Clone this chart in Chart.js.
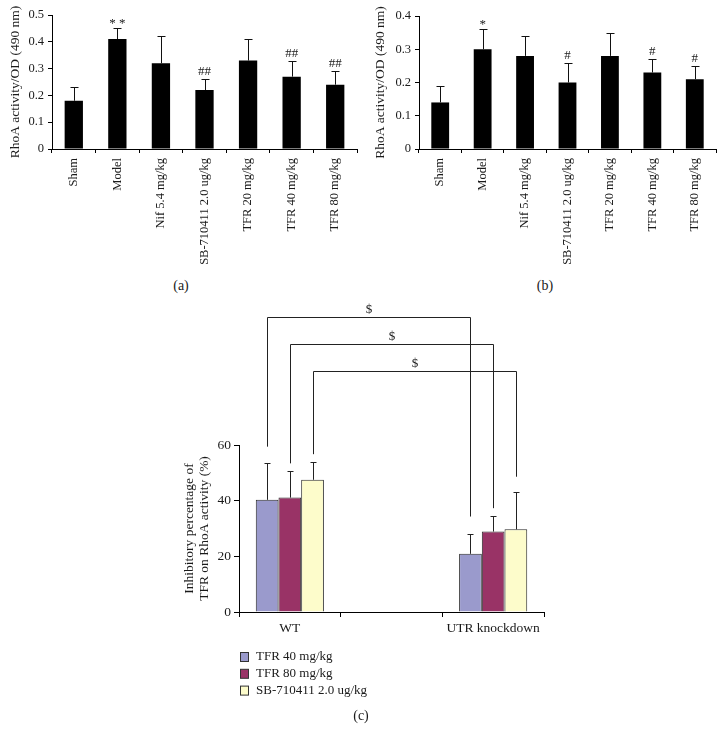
<!DOCTYPE html>
<html>
<head>
<meta charset="utf-8">
<script src="https://cdn.jsdelivr.net/npm/chart.js@4"></script>
<style>
  html, body { margin: 0; padding: 0; background: #fff; }
  body { width: 725px; height: 742px; position: relative; overflow: hidden; }
  canvas { position: absolute; }
  .cap { position: absolute; width: 40px; margin-left: -20px; text-align: center;
         font: 14px "Liberation Serif", serif; color: #1a1a1a; line-height: 16px; }
</style>
</head>
<body>
<canvas id="ca" width="362" height="275" style="left:0;top:0"></canvas>
<canvas id="cb" width="363" height="275" style="left:362px;top:0"></canvas>
<canvas id="cc" width="400" height="447" style="left:165px;top:295px"></canvas>
<div class="cap" style="left:181px;top:278px">(a)</div>
<div class="cap" style="left:545px;top:278px">(b)</div>
<div class="cap" style="left:361px;top:708px">(c)</div>

<script>
// ── DATA ──────────────────────────────────────
const groupLabels = ['Sham', 'Model', 'Nif 5.4 mg/kg', 'SB-710411 2.0 ug/kg',
                     'TFR 20 mg/kg', 'TFR 40 mg/kg', 'TFR 80 mg/kg'];

// panel (a)
const meanA = [0.18, 0.41, 0.32, 0.22, 0.33, 0.27, 0.24];
const sdA   = [0.05, 0.04, 0.10, 0.04, 0.08, 0.06, 0.05];
const markA = ['', '* *', '', '##', '', '##', '##'];

// panel (b)
const meanB = [0.14, 0.30, 0.28, 0.20, 0.28, 0.23, 0.21];
const sdB   = [0.05, 0.06, 0.06, 0.06, 0.07, 0.04, 0.04];
const markB = ['', '*', '', '#', '', '#', '#'];

// panel (c)
const groupsC   = ['WT', '', 'UTR knockdown'];
const seriesC   = ['TFR 40 mg/kg', 'TFR 80 mg/kg', 'SB-710411 2.0 ug/kg'];
const tfr40     = [40.3, null, 20.9];
const tfr40Sd   = [13.2, null, 7.1];
const tfr80     = [41.1, null, 28.9];
const tfr80Sd   = [9.4, null, 5.6];
const sb710411  = [47.5, null, 29.7];
const sb710411Sd = [6.4, null, 13.5];

// "$" brackets: series index, left end, top level, right end (data units)
const bracketSeries = [0, 1, 2];
const bracketLeft   = [59.4, 53.4, 56.7];
const bracketTop    = [106, 96.3, 86.6];
const bracketRight  = [34.3, 37.3, 48.6];

// ── SHARED STYLE ──────────────────────────────
const SERIF = '"Liberation Serif", "Times New Roman", serif';
const INK = '#1a1a1a';
const C_COLORS = ['#9a9acc', '#993366', '#fdfccb'];

// error bars (upward only) + significance marks
const errorBars = {
  id: 'errorBars',
  afterDatasetsDraw(chart, args, opts) {
    const { ctx, scales: { y } } = chart;
    ctx.save();
    ctx.strokeStyle = opts.color || '#000';
    ctx.lineWidth = 1;
    ctx.fillStyle = INK;
    ctx.font = '13px ' + SERIF;
    ctx.textAlign = 'center';
    ctx.textBaseline = 'alphabetic';
    chart.data.datasets.forEach((ds, di) => {
      if (!ds.sd) return;
      chart.getDatasetMeta(di).data.forEach((bar, i) => {
        const v = ds.data[i], s = ds.sd[i];
        if (v == null || s == null) return;
        const x  = Math.round(bar.x) + 0.5;
        const y0 = y.getPixelForValue(v);
        const y1 = Math.round(y.getPixelForValue(v + s)) + 0.5;
        ctx.beginPath();
        ctx.moveTo(x, y0); ctx.lineTo(x, y1);
        ctx.moveTo(x - opts.cap, y1); ctx.lineTo(x + opts.cap, y1);
        ctx.stroke();
        const m = ds.marks && ds.marks[i];
        if (m) {
          const d = ctx.measureText(m).actualBoundingBoxDescent;
          ctx.fillText(m, bar.x, y1 - 5 - d);
        }
      });
    });
    ctx.restore();
  }
};

// ── PANELS (a) and (b) ────────────────────────
function blackBars(id, data, sd, marks, yMax, yLeft, pad, h) {
  new Chart(document.getElementById(id), {
    type: 'bar',
    data: {
      labels: groupLabels,
      datasets: [{ data, sd, marks, backgroundColor: '#000',
                   barPercentage: 0.42, categoryPercentage: 1 }]
    },
    options: {
      responsive: false, animation: false,
      layout: { padding: pad },
      plugins: { legend: { display: false }, tooltip: { enabled: false },
                 errorBars: { cap: 4, color: '#111' } },
      scales: {
        x: {
          grid: { display: true, drawOnChartArea: false, offset: true, tickLength: 4, color: '#000' },
          border: { color: '#000' },
          ticks: { autoSkip: false, minRotation: 90, maxRotation: 90, padding: 5,
                   color: INK, font: { family: SERIF, size: 12.5 } },
          afterFit: s => { s.height = h; }
        },
        y: {
          min: 0, max: yMax,
          grid: { drawOnChartArea: false, tickLength: 4, color: '#000' },
          border: { color: '#000' },
          ticks: { stepSize: 0.1, padding: 4, color: INK, font: { family: SERIF, size: 12.5 } },
          title: { display: true, text: 'RhoA activity/OD (490 nm)', color: INK,
                   font: { family: SERIF, size: 13.5 }, padding: { top: pad.titleTop, bottom: 0 } },
          afterFit: s => { s.width = yLeft; }
        }
      }
    },
    plugins: [errorBars]
  });
}

blackBars('ca', meanA, sdA, markA, 0.5, 52, { top: 15, right: 5, left: 0, bottom: 0, titleTop: 7 }, 126);
blackBars('cb', meanB, sdB, markB, 0.4, 57, { top: 16, right: 9, left: 0, bottom: 0, titleTop: 10 }, 126);

// ── PANEL (c) ─────────────────────────────────
const brackets = {
  id: 'brackets',
  afterDraw(chart) {
    const { ctx, scales: { y } } = chart;
    ctx.save();
    ctx.strokeStyle = '#222';
    ctx.lineWidth = 1;
    ctx.fillStyle = INK;
    ctx.font = '13px ' + SERIF;
    ctx.textAlign = 'center';
    ctx.textBaseline = 'alphabetic';
    bracketSeries.forEach((di, k) => {
      const bars = chart.getDatasetMeta(di).data;
      const xl = Math.round(bars[0].x) + 0.5, xr = Math.round(bars[2].x) + 0.5;
      const yt = Math.round(y.getPixelForValue(bracketTop[k])) + 0.5;
      ctx.beginPath();
      ctx.moveTo(xl, y.getPixelForValue(bracketLeft[k]));
      ctx.lineTo(xl, yt);
      ctx.lineTo(xr, yt);
      ctx.lineTo(xr, y.getPixelForValue(bracketRight[k]));
      ctx.stroke();
      ctx.fillText('$', (xl + xr) / 2, yt - 5);
    });

    // legend, one entry per row
    ctx.textAlign = 'left';
    ctx.textBaseline = 'middle';
    chart.data.datasets.forEach((ds, i) => {
      const cy = 362 + i * 16.8;
      ctx.fillStyle = ds.backgroundColor;
      ctx.fillRect(75.5, cy - 4.5, 8, 9);
      ctx.strokeStyle = '#333';
      ctx.strokeRect(75.5, cy - 4.5, 8, 9);
      ctx.fillStyle = INK;
      ctx.fillText(ds.label, 91, cy);
    });
    ctx.restore();
  }
};

new Chart(document.getElementById('cc'), {
  type: 'bar',
  data: {
    labels: groupsC,
    datasets: [
      { label: seriesC[0], data: tfr40,    sd: tfr40Sd },
      { label: seriesC[1], data: tfr80,    sd: tfr80Sd },
      { label: seriesC[2], data: sb710411, sd: sb710411Sd }
    ].map((d, i) => Object.assign(d, {
      backgroundColor: C_COLORS[i], borderColor: '#2a2a2a', borderWidth: 1,
      barPercentage: 1, categoryPercentage: 0.67
    }))
  },
  options: {
    responsive: false, animation: false,
    layout: { padding: { top: 150, right: 21, left: 0, bottom: 0 } },
    plugins: { legend: { display: false }, tooltip: { enabled: false },
               errorBars: { cap: 3, color: '#222' } },
    scales: {
      x: {
        grid: { display: true, drawOnChartArea: false, offset: true, tickLength: 5, color: '#000' },
        border: { color: '#000' },
        ticks: { autoSkip: false, maxRotation: 0, padding: 3, color: INK,
                 font: { family: SERIF, size: 13.5 } },
        afterFit: s => { s.height = 130; }
      },
      y: {
        min: 0, max: 60,
        grid: { drawOnChartArea: false, tickLength: 5, color: '#000' },
        border: { color: '#000' },
        ticks: { stepSize: 20, padding: 3, color: INK, font: { family: SERIF, size: 13.5 } },
        title: { display: true, text: ['Inhibitory percentage of', 'TFR on RhoA activity (%)'],
                 color: INK, font: { family: SERIF, size: 13.5, lineHeight: 1.1 },
                 padding: { top: 17, bottom: 0 } },
        afterFit: s => { s.width = 74; }
      }
    }
  },
  plugins: [errorBars, brackets]
});
</script>
</body>
</html>
